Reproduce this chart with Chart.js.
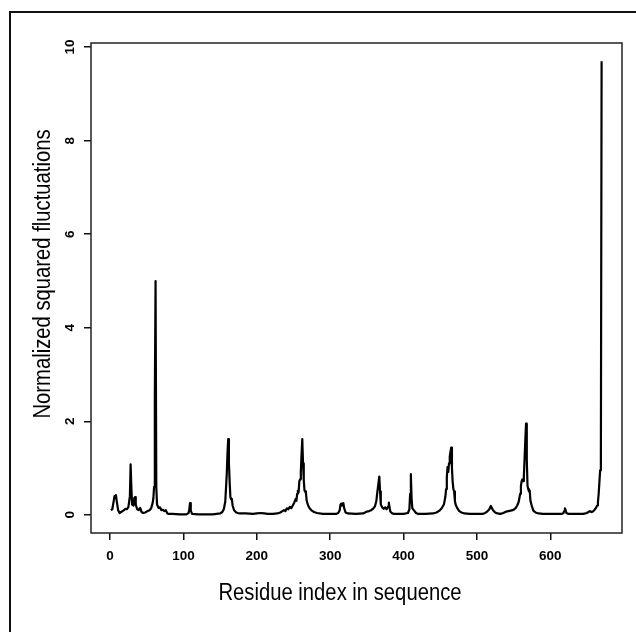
<!DOCTYPE html>
<html>
<head>
<meta charset="utf-8">
<script src="https://cdn.jsdelivr.net/npm/chart.js@4.4.1/dist/chart.umd.min.js"></script>
<style>
    html, body { margin: 0; padding: 0; background: #ffffff; }
    #wrap { width: 636px; height: 632px; }
</style>
</head>
<body>
<div id="wrap"><canvas id="flucChart" width="636" height="632"></canvas></div>
<script>
const residues = [
    1, 3, 5, 6, 7, 8, 9, 11, 13, 15, 17, 19, 21, 23, 25, 27, 28, 29, 30, 32, 33, 34, 35, 37, 39, 41, 43, 45, 48, 51,
    54, 56, 58, 59, 60, 61, 62, 63, 64, 66, 68, 70, 72, 74, 76, 78, 80, 85, 95, 104, 107, 108, 109, 110, 112, 120, 140,
    150, 153, 155, 157, 159, 160, 161, 162, 163, 164, 165, 166, 167, 169, 172, 176, 185, 195, 200, 205, 210, 215, 222,
    228, 232, 235, 237, 239, 241, 243, 245, 247, 249, 251, 253, 254, 255, 256, 257, 258, 259, 260, 261, 262, 263, 264,
    265, 266, 267, 268, 270, 272, 275, 278, 282, 290, 300, 308, 311, 313, 314, 315, 316, 317, 318, 319, 321, 324, 335,
    345, 350, 353, 356, 359, 361, 363, 364, 366, 367, 368, 369, 371, 373, 375, 377, 379, 380, 381, 382, 384, 387, 400,
    406, 408, 409, 410, 411, 412, 414, 417, 420, 430, 440, 445, 449, 452, 455, 457, 458, 459, 460, 461, 462, 463, 464,
    465, 466, 467, 468, 469, 470, 471, 473, 476, 479, 483, 490, 500, 508, 511, 514, 517, 519, 520, 522, 525, 528, 532,
    536, 540, 543, 546, 549, 551, 553, 555, 557, 559, 560, 561, 562, 563, 564, 565, 566, 567, 568, 569, 570, 571, 572,
    573, 575, 577, 580, 584, 590, 600, 610, 616, 618, 619, 620, 621, 622, 625, 635, 645, 650, 652, 654, 656, 658, 660,
    662, 664, 665, 666, 667, 668, 669, 670
];
const fluctuations = [
    0.10, 0.12, 0.30, 0.40, 0.36, 0.42, 0.30, 0.10, 0.04, 0.06, 0.08, 0.10, 0.13, 0.12, 0.17, 0.40, 1.08, 0.60, 0.22, 0.20, 0.36, 0.38, 0.22, 0.12, 0.10, 0.15, 0.06, 0.04, 0.05, 0.08,
    0.10, 0.14, 0.25, 0.35, 0.60, 2.50, 5.00, 0.60, 0.22, 0.15, 0.16, 0.10, 0.11, 0.08, 0.10, 0.03, 0.02, 0.02, 0.01, 0.01, 0.04, 0.12, 0.25, 0.08, 0.02, 0.01, 0.01,
    0.03, 0.06, 0.12, 0.28, 0.85, 1.30, 1.62, 1.10, 0.70, 0.38, 0.33, 0.34, 0.20, 0.10, 0.05, 0.03, 0.03, 0.02, 0.03, 0.04, 0.03, 0.02, 0.02,
    0.03, 0.05, 0.08, 0.10, 0.08, 0.14, 0.12, 0.17, 0.14, 0.20, 0.26, 0.34, 0.30, 0.45, 0.52, 0.48, 0.72, 0.76, 0.92, 1.30, 1.62, 1.10, 0.75,
    0.52, 0.50, 0.46, 0.30, 0.20, 0.14, 0.09, 0.06, 0.04, 0.02, 0.02, 0.02, 0.04, 0.10, 0.22, 0.24, 0.20, 0.24, 0.25, 0.15, 0.05, 0.03, 0.02,
    0.03, 0.07, 0.08, 0.10, 0.14, 0.18, 0.30, 0.45, 0.70, 0.82, 0.50, 0.22, 0.16, 0.13, 0.16, 0.12, 0.18, 0.26, 0.15, 0.07, 0.04, 0.02, 0.02,
    0.04, 0.12, 0.45, 0.87, 0.35, 0.14, 0.10, 0.04, 0.02, 0.02, 0.03, 0.05, 0.09, 0.14, 0.22, 0.38, 0.55, 0.80, 1.02, 0.92, 1.10, 1.25, 1.35,
    1.44, 1.00, 0.70, 0.55, 0.50, 0.30, 0.22, 0.15, 0.08, 0.05, 0.03, 0.02, 0.02, 0.02, 0.04, 0.07, 0.12, 0.19, 0.16, 0.10, 0.05, 0.03, 0.02,
    0.04, 0.07, 0.08, 0.09, 0.10, 0.12, 0.15, 0.20, 0.28, 0.45, 0.62, 0.72, 0.76, 0.72, 0.82, 1.20, 1.60, 1.95, 1.20, 0.62, 0.55, 0.50, 0.52,
    0.30, 0.18, 0.09, 0.05, 0.03, 0.02, 0.02, 0.02, 0.02, 0.04, 0.08, 0.14, 0.10, 0.04, 0.02, 0.02, 0.02, 0.04, 0.06, 0.08, 0.06, 0.07, 0.10,
    0.14, 0.20, 0.28, 0.45, 0.70, 0.95, 1.20, 9.70
];
const xTickValues = [0, 100, 200, 300, 400, 500, 600];
const yTickValues = [0, 2, 4, 6, 8, 10];
const xTitle = 'Residue index in sequence';
const yTitle = 'Normalized squared fluctuations';

const fontFamily = '"Liberation Sans", Arial, Helvetica, sans-serif';

// R style box, outer frame, rotated y labels and axis titles
const rDecor = {
    id: 'rDecor',
    afterDraw(chart) {
        const { ctx, chartArea } = chart;
        const yScale = chart.scales.y;

        ctx.save();
        ctx.strokeStyle = '#111';
        ctx.lineWidth = 2;
        ctx.beginPath();
        ctx.moveTo(10, 632);
        ctx.lineTo(10, 12);
        ctx.lineTo(636, 12);
        ctx.stroke();

        ctx.lineWidth = 1.5;
        ctx.strokeStyle = '#222';
        ctx.strokeRect(chartArea.left, chartArea.top, chartArea.right - chartArea.left, chartArea.bottom - chartArea.top);

        ctx.fillStyle = '#000';
        ctx.font = 'bold 13.5px ' + fontFamily;
        ctx.textAlign = 'center';
        ctx.textBaseline = 'middle';
        yScale.ticks.forEach((t) => {
            const py = yScale.getPixelForValue(t.value);
            ctx.save();
            ctx.translate(70, py);
            ctx.rotate(-Math.PI / 2);
            ctx.fillText(String(t.value), 0, 0);
            ctx.restore();
        });

        ctx.font = '23px ' + fontFamily;
        ctx.textBaseline = 'alphabetic';
        ctx.save();
        ctx.translate(340, 600);
        ctx.scale(0.88, 1);
        ctx.fillText(xTitle, 0, 0);
        ctx.restore();

        ctx.save();
        ctx.translate(50, 274);
        ctx.rotate(-Math.PI / 2);
        ctx.scale(0.88, 1);
        ctx.fillText(yTitle, 0, 0);
        ctx.restore();

        ctx.restore();
    },
};

new Chart(document.getElementById('flucChart').getContext('2d'), {
    type: 'line',
    data: {
        datasets: [
            {
                data: residues.map((r, i) => ({ x: r, y: fluctuations[i] })),
                borderColor: '#000',
                borderWidth: 2.2,
                borderJoinStyle: 'round',
                pointRadius: 0,
                fill: false,
                tension: 0,
            },
        ],
    },
    options: {
        responsive: false,
        animation: false,
        layout: {
            padding: { left: 0, top: 43, right: 14, bottom: 0 },
        },
        plugins: {
            legend: { display: false },
            tooltip: { enabled: false },
        },
        scales: {
            x: {
                type: 'linear',
                min: -26,
                max: 697.8,
                afterBuildTicks: (scale) => {
                    scale.ticks = xTickValues.map((v) => ({ value: v }));
                },
                afterFit: (scale) => {
                    scale.height = 99;
                },
                border: { display: false },
                grid: {
                    drawOnChartArea: false,
                    drawTicks: true,
                    tickLength: 7,
                    color: '#111',
                    lineWidth: 1.5,
                },
                ticks: {
                    autoSkip: false,
                    maxRotation: 0,
                    padding: 8,
                    color: '#000',
                    font: { family: fontFamily, size: 13.5, weight: 'bold' },
                },
            },
            y: {
                min: -0.388,
                max: 10.088,
                afterBuildTicks: (scale) => {
                    scale.ticks = yTickValues.map((v) => ({ value: v }));
                },
                afterFit: (scale) => {
                    scale.width = 91;
                },
                border: { display: false },
                grid: {
                    drawOnChartArea: false,
                    drawTicks: true,
                    tickLength: 7,
                    color: '#111',
                    lineWidth: 1.5,
                },
                ticks: {
                    display: false,
                },
            },
        },
    },
    plugins: [rDecor],
});
</script>
</body>
</html>
